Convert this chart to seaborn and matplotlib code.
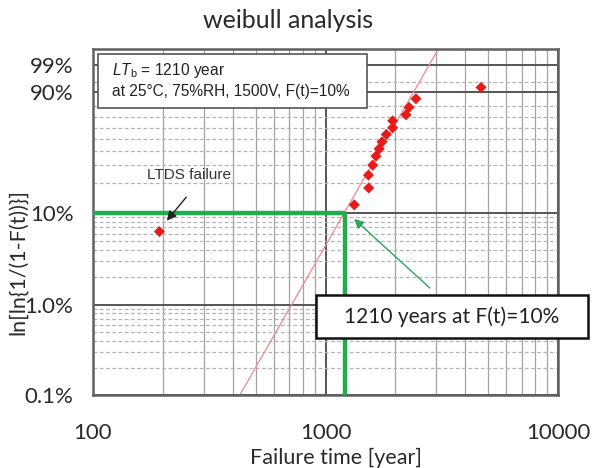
import matplotlib
matplotlib.use("Agg")
import matplotlib.pyplot as plt
import matplotlib.patches as patches
import numpy as np
import pandas as pd
import seaborn as sns

# failure data
fail_time = [193, 1330, 1534, 1530, 1596, 1649, 1700, 1750, 1826, 1945, 1945, 2219, 2287, 2449, 4667]
fail_prob = [6.3, 12.1, 18.0, 24.1, 29.9, 36.1, 41.7, 47.5, 54.1, 60.3, 66.8, 72.4, 78.9, 85.6, 92.5]  # %

# fitted weibull line end points
fit_time = [428, 3055]
fit_prob = [0.1, 99.9]

# B10 life
lt_years = 1210
lt_prob = 10.0

ytick_vals = [0.1, 1.0, 10, 90, 99]
ytick_labels = ["0.1%", "1.0%", "10%", "90%", "99%"]
ygrid_minor = [0.2, 0.3, 0.4, 0.5, 0.6, 0.7, 0.8, 0.9,
               2, 3, 4, 5, 6, 7, 8, 9,
               20, 30, 40, 50, 60, 70, 80, 95, 99.9]
xtick_vals = [100, 1000, 10000]
xgrid_minor = [200, 300, 400, 500, 600, 700, 800, 900,
               2000, 3000, 4000, 5000, 6000, 7000, 8000, 9000]


def fwd(p):
    p = np.clip(np.asarray(p, dtype=float) / 100.0, 1e-9, 1 - 1e-9)
    return np.log(-np.log(1 - p))


def inv(y):
    return 100.0 * (1 - np.exp(-np.exp(np.asarray(y, dtype=float))))


sns.set_style("white")
plt.rcParams['font.family'] = ['Lato', 'DejaVu Sans']
plt.rcParams['mathtext.fontset'] = 'custom'
plt.rcParams['mathtext.it'] = 'Liberation Sans:italic'
plt.rcParams['mathtext.rm'] = 'Liberation Sans'

fig = plt.figure(figsize=(5.93, 4.68), dpi=100)
ax = fig.add_axes([93 / 593, 1 - 395 / 468, 465 / 593, 346 / 468])
ax.set_xscale('log')
ax.set_yscale('function', functions=(fwd, inv))
ax.set_xlim(100, 10000)
ax.set_ylim(0.1, 99.9)

# weibull paper grid
for x in xgrid_minor:
    ax.axvline(x, color='#a3a3a3', lw=0.9, zorder=0)
for x in xtick_vals:
    ax.axvline(x, color='#555555', lw=1.4, zorder=0)
for y in ygrid_minor:
    ax.axhline(y, color='#b3b3b3', lw=0.9, ls=(0, (3, 2)), zorder=0)
for y in ytick_vals:
    ax.axhline(y, color='#555555', lw=1.4, zorder=0)

df = pd.DataFrame({"t": fail_time, "F": fail_prob})
fit = pd.DataFrame({"t": fit_time, "F": fit_prob})

sns.lineplot(data=fit, x="t", y="F", color='#f08a8a', lw=0.9, ax=ax, zorder=2)
ax.plot([100, lt_years], [lt_prob, lt_prob], color='#1fae4b', lw=3.2, zorder=3, solid_capstyle='butt')
ax.plot([lt_years, lt_years], [0.1, lt_prob], color='#1fae4b', lw=3.2, zorder=3, solid_capstyle='butt')
sns.scatterplot(data=df, x="t", y="F", marker='D', s=32, color='#e81a1a', edgecolor='none', ax=ax, zorder=4)

ax.set_xticks(xtick_vals)
ax.set_xticklabels([str(v) for v in xtick_vals])
ax.set_xticks([], minor=True)
ax.set_yticks(ytick_vals)
ax.set_yticklabels(ytick_labels)
ax.set_yticks([], minor=True)
ax.tick_params(axis='x', length=0, pad=20, labelsize=16, labelcolor='#2a2a2a')
ax.tick_params(axis='y', length=0, pad=14, labelsize=16, labelcolor='#2a2a2a')

for s in ax.spines.values():
    s.set_color('#606060')
    s.set_linewidth(1.8)

ax.set_xlabel("Failure time [year]", fontsize=15.5, color='#2a2a2a')
ax.set_ylabel("ln[ln{1/(1-F(t))}]", fontsize=15.5, color='#2a2a2a')
ax.xaxis.set_label_coords(0.523, -0.152)
ax.yaxis.set_label_coords(-0.14, 0.385)

fig.text(288 / 593, 1 - 20 / 468, "weibull analysis", ha='center', va='center', fontsize=18, color='#2a2a2a')

# condition box
ax.add_patch(patches.Rectangle((0.011, 0.83), 0.578, 0.156, transform=ax.transAxes,
                               facecolor='white', edgecolor='#555555', lw=1.2, zorder=5))
ax.text(0.041, 0.939, r"$\mathit{LT}_\mathrm{b}$ = 1210 year", transform=ax.transAxes, fontsize=11.2,
        family='Liberation Sans', va='center', zorder=6, color='#222222')
ax.text(0.041, 0.876, "at 25°C, 75%RH, 1500V, F(t)=10%", transform=ax.transAxes, fontsize=11.2,
        family='Liberation Sans', va='center', zorder=6, color='#222222')

# LTDS failure label
ax.text(0.206, 0.636, "LTDS failure", transform=ax.transAxes, fontsize=11, family='Liberation Sans',
        ha='center', va='center', color='#333333', zorder=6)
ax.annotate("", xy=(204, 7.8), xycoords='data', xytext=(188 / 593, 1 - 195 / 468), textcoords='figure fraction',
            arrowprops=dict(arrowstyle='-|>', color='#222222', lw=1.0, mutation_scale=14), zorder=6)

# green callout
ax.annotate("", xy=(1300, 9.0), xycoords='data', xytext=(432 / 593, 1 - 290 / 468), textcoords='figure fraction',
            arrowprops=dict(arrowstyle='-|>', color='#2fa35a', lw=1.0, mutation_scale=14), zorder=6)
fig.patches.append(patches.Rectangle((316 / 593, 1 - 338 / 468), 272 / 593, 43 / 468, transform=fig.transFigure,
                                     facecolor='white', edgecolor='#111111', lw=1.8, zorder=7))
fig.text(452 / 593, 1 - 317 / 468, "1210 years at F(t)=10%", ha='center', va='center', fontsize=15,
         color='#222222', zorder=8)

fig.savefig("out.png", dpi=100)
